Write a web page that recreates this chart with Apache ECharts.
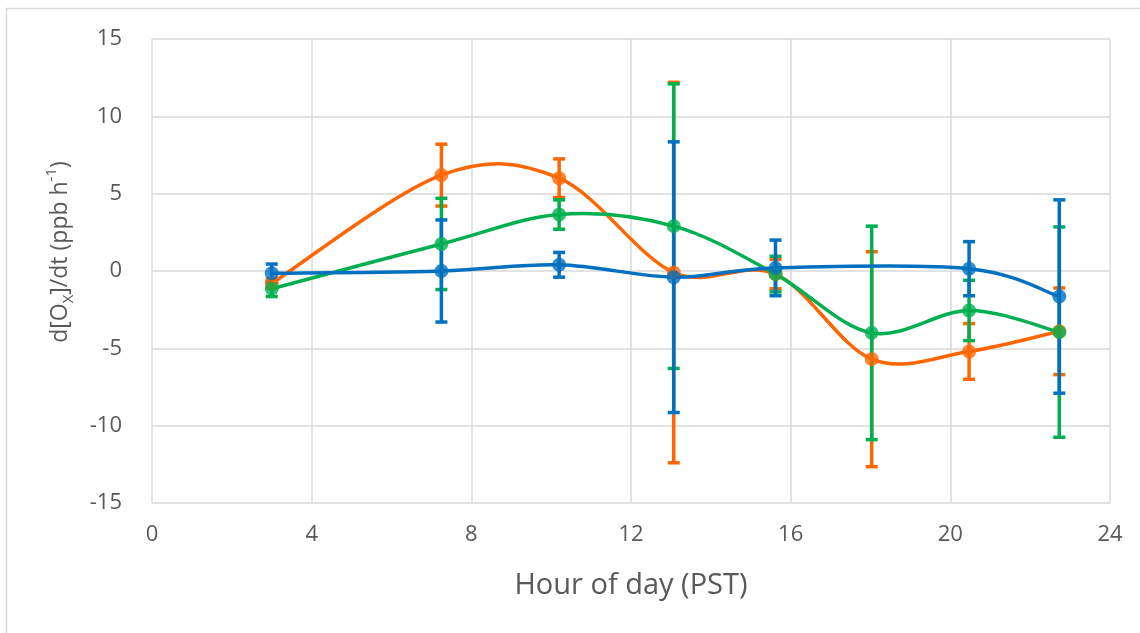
<!DOCTYPE html>
<html>
<head>
<meta charset="utf-8">
<script src="https://cdn.jsdelivr.net/npm/echarts@6/dist/echarts.min.js"></script>
<style>
  html, body { margin: 0; padding: 0; background: #fff; }
  #chart { width: 1140px; height: 633px; }
</style>
</head>
<body>
<div id="chart"></div>
<script>
// Hour of day (PST) for each averaging bin
const hoursAll = [3.0, 7.25, 10.2, 13.07, 15.62, 18.03, 20.47, 22.73];
const hoursBlue = [3.0, 7.25, 10.2, 13.07, 15.62, 20.47, 22.73];

// d[Ox]/dt (ppb h-1) and error-bar half widths
const orangeVals = [-0.8, 6.2, 6.0, -0.1, -0.2, -5.7, -5.2, -3.9];
const orangeErr  = [0.3, 2.0, 1.25, 12.3, 0.95, 6.95, 1.8, 2.8];
const greenVals  = [-1.15, 1.75, 3.65, 2.9, -0.2, -4.0, -2.55, -3.95];
const greenErr   = [0.5, 2.95, 0.95, 9.2, 1.15, 6.9, 1.95, 6.8];
const blueVals   = [-0.15, 0.0, 0.4, -0.4, 0.2, 0.15, -1.65];
const blueErr    = [0.6, 3.3, 0.8, 8.75, 1.8, 1.75, 6.25];

const xTicks = { min: 0, max: 24, interval: 4 };
const yTicks = { min: -15, max: 15, interval: 5 };

const COLORS = { orange: '#FF6600', green: '#00B050', blue: '#0070C0' };
const TEXT = '#595959';
const GRID_LINE = '#D9D9D9';
const FONT = 'Open Sans';

const pairs = (xs, ys) => xs.map((x, i) => [x, ys[i]]);
const bars = (xs, ys, es) => xs.map((x, i) => [x, ys[i] - es[i], ys[i] + es[i]]);

function errorBarSeries(name, color, data) {
  return {
    type: 'custom',
    name: name + ' error',
    z: 2,
    silent: true,
    data: data,
    encode: { x: 0, y: [1, 2] },
    renderItem: function (params, api) {
      const lo = api.coord([api.value(0), api.value(1)]);
      const hi = api.coord([api.value(0), api.value(2)]);
      const cap = 6;
      const style = { stroke: color, lineWidth: 3.5, fill: null };
      return {
        type: 'group',
        children: [
          { type: 'line', shape: { x1: lo[0], y1: lo[1], x2: hi[0], y2: hi[1] }, style: style },
          { type: 'line', shape: { x1: lo[0] - cap, y1: lo[1], x2: lo[0] + cap, y2: lo[1] }, style: style },
          { type: 'line', shape: { x1: hi[0] - cap, y1: hi[1], x2: hi[0] + cap, y2: hi[1] }, style: style }
        ]
      };
    }
  };
}

// Smoothed connecting line: one cubic segment per point pair, tangents taken
// from neighbouring points in screen space (Catmull-Rom style).
function smoothLineSeries(name, color, xs, ys) {
  return {
    type: 'custom',
    name: name,
    z: 3,
    silent: true,
    data: pairs(xs, ys),
    encode: { x: 0, y: 1 },
    renderItem: function (params, api) {
      const i = params.dataIndex;
      const n = xs.length;
      if (i >= n - 1) return null;
      const pt = (j) => api.coord([xs[Math.max(0, Math.min(n - 1, j))], ys[Math.max(0, Math.min(n - 1, j))]]);
      const p0 = pt(i - 1), p1 = pt(i), p2 = pt(i + 1), p3 = pt(i + 2);
      const k = 1 / 6;
      return {
        type: 'bezierCurve',
        shape: {
          x1: p1[0], y1: p1[1],
          x2: p2[0], y2: p2[1],
          cpx1: p1[0] + (p2[0] - p0[0]) * k, cpy1: p1[1] + (p2[1] - p0[1]) * k,
          cpx2: p2[0] - (p3[0] - p1[0]) * k, cpy2: p2[1] - (p3[1] - p1[1]) * k
        },
        style: { stroke: color, lineWidth: 3.5, fill: null, lineCap: 'round' }
      };
    }
  };
}

function markerSeries(name, color, data) {
  return {
    type: 'scatter',
    name: name,
    z: 3,
    data: data,
    symbol: 'circle',
    symbolSize: 14,
    itemStyle: { color: color }
  };
}

const chart = echarts.init(document.getElementById('chart'), null, { renderer: 'canvas' });

chart.setOption({
  animation: false,
  backgroundColor: '#fff',
  grid: { left: 152, top: 39, width: 958, height: 464, containLabel: false },
  xAxis: {
    type: 'value',
    min: xTicks.min, max: xTicks.max, interval: xTicks.interval,
    axisLine: { show: false },
    axisTick: { show: false },
    axisLabel: { color: TEXT, fontFamily: FONT, fontSize: 22, margin: 21 },
    splitLine: { show: true, lineStyle: { color: GRID_LINE, width: 1.5 } },
    name: 'Hour of day (PST)',
    nameLocation: 'middle',
    nameGap: 68,
    nameTextStyle: { color: TEXT, fontFamily: FONT, fontSize: 29 }
  },
  yAxis: {
    type: 'value',
    min: yTicks.min, max: yTicks.max, interval: yTicks.interval,
    axisLine: { show: false },
    axisTick: { show: false },
    axisLabel: { color: TEXT, fontFamily: FONT, fontSize: 22, margin: 30 },
    splitLine: { show: true, lineStyle: { color: GRID_LINE, width: 1.5 } }
  },
  graphic: [
    {
      type: 'rect', z: -1, silent: true,
      shape: { x: 6.5, y: 8.5, width: 1200, height: 700 },
      style: { fill: null, stroke: GRID_LINE, lineWidth: 1.5 }
    },
    {
      type: 'text', x: 60, y: 252, rotation: Math.PI / 2,
      style: {
        text: '{a|d[O}{s|X}{a|]/dt (ppb h}{p|-1}{a|)}',
        align: 'center', verticalAlign: 'middle',
        rich: {
          a: { fontFamily: FONT, fontSize: 23, lineHeight: 32, fill: TEXT, color: TEXT },
          s: { fontFamily: FONT, fontSize: 15, lineHeight: 17, verticalAlign: 'bottom', fill: TEXT, color: TEXT },
          p: { fontFamily: FONT, fontSize: 15, lineHeight: 17, verticalAlign: 'top', fill: TEXT, color: TEXT }
        }
      }
    }
  ],
  series: [
    errorBarSeries('orange', COLORS.orange, bars(hoursAll, orangeVals, orangeErr)),
    errorBarSeries('green', COLORS.green, bars(hoursAll, greenVals, greenErr)),
    errorBarSeries('blue', COLORS.blue, bars(hoursBlue, blueVals, blueErr)),
    smoothLineSeries('orange', COLORS.orange, hoursAll, orangeVals),
    markerSeries('orange', COLORS.orange, pairs(hoursAll, orangeVals)),
    smoothLineSeries('green', COLORS.green, hoursAll, greenVals),
    markerSeries('green', COLORS.green, pairs(hoursAll, greenVals)),
    smoothLineSeries('blue', COLORS.blue, hoursBlue, blueVals),
    markerSeries('blue', COLORS.blue, pairs(hoursBlue, blueVals))
  ]
});
</script>
</body>
</html>
